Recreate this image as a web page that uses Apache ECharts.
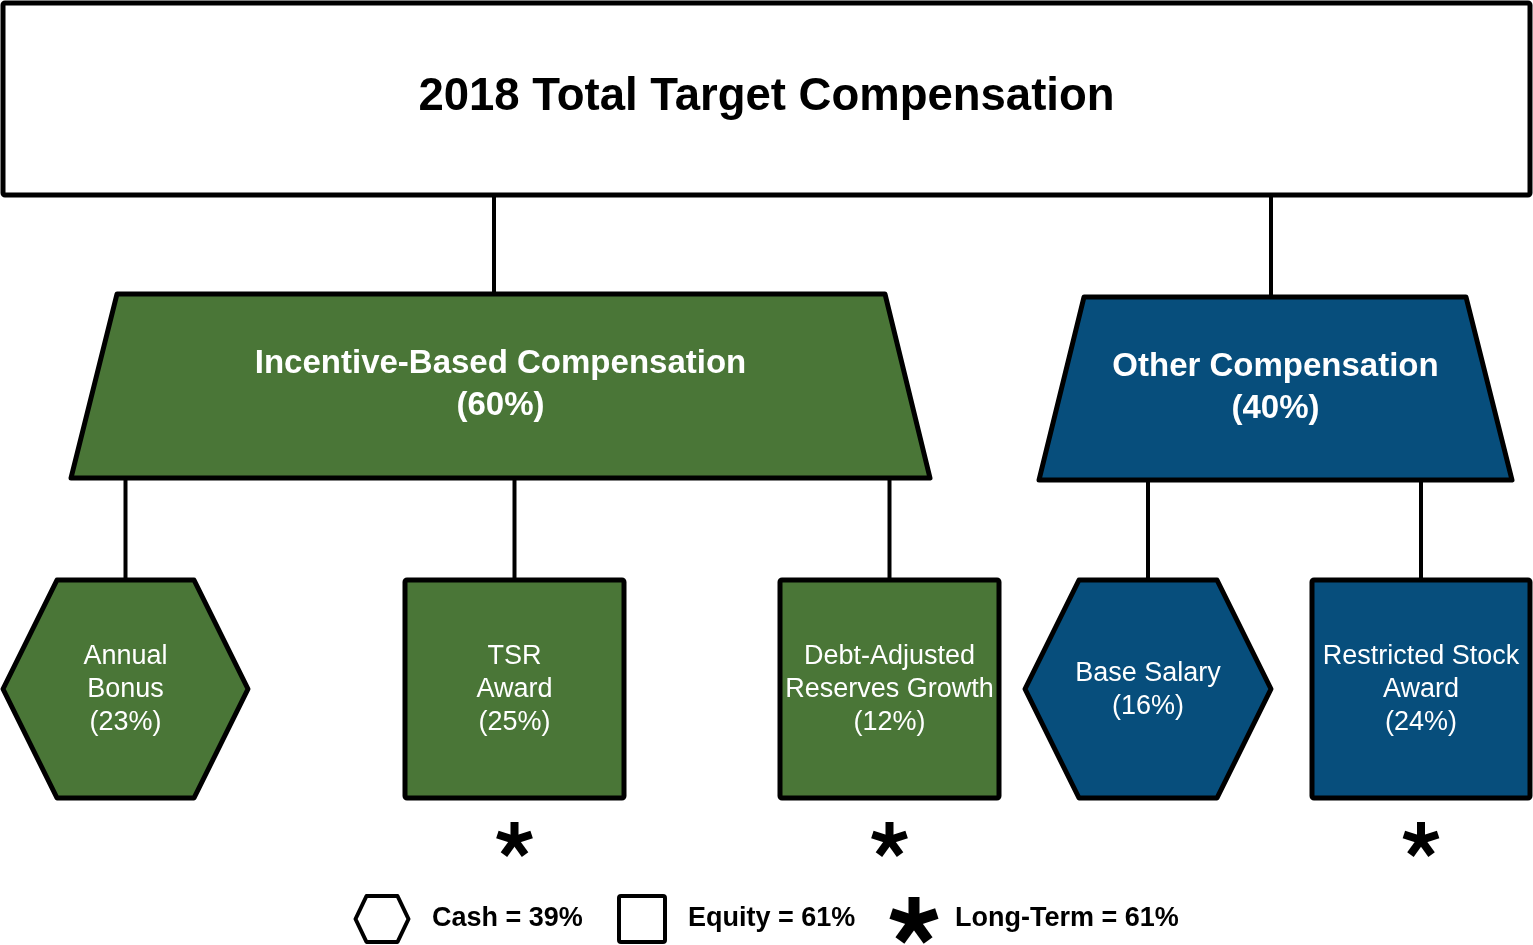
<!DOCTYPE html>
<html><head><meta charset="utf-8">
<script src="https://cdn.jsdelivr.net/npm/echarts@6/dist/echarts.min.js"></script>
<style>html,body{margin:0;padding:0;background:#fff}#c{width:1533px;height:945px}</style>
</head><body><div id="c"></div>
<script>
// ---- data ----
const title = '2018 Total Target Compensation';
const groupNames = ['Incentive-Based Compensation', 'Other Compensation'];
const groupShares = [60, 40];
const categories = ['Annual\nBonus', 'TSR\nAward', 'Debt-Adjusted\nReserves Growth', 'Base Salary', 'Restricted Stock\nAward'];
const categoryShares = [23, 25, 12, 16, 24];
const categoryGroup = [0, 0, 0, 1, 1];
const payForm = ['Cash', 'Equity', 'Equity', 'Cash', 'Equity'];
const longTerm = [false, true, true, false, true];
const legendLabels = ['Cash = 39%', 'Equity = 61%', 'Long-Term = 61%'];

// ---- layout (in the hidden axes' units) ----
const L = {
  root: {x0: 3, x1: 1530, y0: 3, y1: 195, ty: 97},
  groupTopX: [[117, 885], [1084, 1466]], groupTopY: [294, 297],
  groupBotX: [[71, 930], [1039, 1512]], groupBotY: [478, 480],
  groupTextY: [385, 388],
  groupAnchorX: [494, 1271],
  nodeCx: [125.5, 514.5, 889.5, 1148, 1421],
  nodeW: [245, 219, 219, 246, 218],
  nodeY0: 580, nodeY1: 798, hexInset: 54, textDy: 1,
  starY: 840,
  legend: {y: 919, hexCx: 382, sqCx: 642, starCx: 914, textX: [432, 688, 955]}
};
const COLORS = ['#4A7637', '#074E7C'];
const FONT = '"Liberation Sans", Arial, Helvetica, sans-serif';

function star(api, cx, cy, r, w) {
  const c = api.coord([cx, cy]);
  const kids = [];
  for (let k = 0; k < 5; k++) {
    const a = (-90 + 72 * k) * Math.PI / 180;
    kids.push({type: 'line', shape: {x1: c[0], y1: c[1], x2: c[0] + r * Math.cos(a), y2: c[1] + r * Math.sin(a)},
      style: {stroke: '#000', lineWidth: w, lineCap: 'butt'}});
  }
  return kids;
}
function hexPts(api, cx, cy, w, h, inset) {
  const P = (x, y) => api.coord([x, y]);
  return [P(cx - w / 2, cy), P(cx - w / 2 + inset, cy - h / 2), P(cx + w / 2 - inset, cy - h / 2),
          P(cx + w / 2, cy), P(cx + w / 2 - inset, cy + h / 2), P(cx - w / 2 + inset, cy + h / 2)];
}

// connectors
const connectors = [];
groupNames.forEach((g, i) => connectors.push([L.groupAnchorX[i], L.root.y1, L.groupTopY[i]]));
categories.forEach((c, i) => connectors.push([L.nodeCx[i], L.groupBotY[categoryGroup[i]], L.nodeY0]));

const chart = echarts.init(document.getElementById('c'), null, {renderer: 'canvas'});
chart.setOption({
  animation: false,
  backgroundColor: '#fff',
  grid: {left: 0, right: 0, top: 0, bottom: 0},
  xAxis: {type: 'value', min: 0, max: 1533, show: false},
  yAxis: {type: 'value', min: 0, max: 945, inverse: true, show: false},
  series: [
    { // connectors
      type: 'custom', clip: false, silent: true, z: 1,
      data: connectors,
      renderItem: (p, api) => {
        const a = api.coord([api.value(0), api.value(1)]), b = api.coord([api.value(0), api.value(2)]);
        return {type: 'line', shape: {x1: a[0], y1: a[1], x2: b[0], y2: b[1]}, style: {stroke: '#000', lineWidth: 4}};
      }
    },
    { // root box
      type: 'custom', clip: false, silent: true, z: 2,
      data: [[0]],
      renderItem: (p, api) => {
        const a = api.coord([L.root.x0, L.root.y0]), b = api.coord([L.root.x1, L.root.y1]);
        const t = api.coord([(L.root.x0 + L.root.x1) / 2, L.root.ty]);
        return {type: 'group', children: [
          {type: 'rect', shape: {x: a[0], y: a[1], width: b[0] - a[0], height: b[1] - a[1], r: 2},
           style: {fill: '#fff', stroke: '#000', lineWidth: 5, lineJoin: 'round'}},
          {type: 'text', style: {text: title, x: t[0], y: t[1], align: 'center', verticalAlign: 'middle',
           fill: '#000', fontSize: 45.5, fontWeight: 'bold', fontFamily: FONT}}
        ]};
      }
    },
    { // groups
      type: 'custom', clip: false, silent: true, z: 2,
      data: groupShares.map((v, i) => [i, v]),
      renderItem: (p, api) => {
        const i = api.value(0);
        const P = (x, y) => api.coord([x, y]);
        const tx = L.groupTopX[i], bx = L.groupBotX[i], ty = L.groupTopY[i], by = L.groupBotY[i];
        const c = P((bx[0] + bx[1]) / 2, L.groupTextY[i]);
        return {type: 'group', children: [
          {type: 'polygon', shape: {points: [P(tx[0], ty), P(tx[1], ty), P(bx[1], by), P(bx[0], by)]},
           style: {fill: COLORS[i], stroke: '#000', lineWidth: 5, lineJoin: 'round'}},
          {type: 'text', style: {text: groupNames[i] + '\n(' + api.value(1) + '%)', x: c[0], y: c[1],
           align: 'center', verticalAlign: 'middle', fill: '#fff', fontSize: 33, fontWeight: 'bold',
           fontFamily: FONT, lineHeight: 42}}
        ]};
      }
    },
    { // components
      type: 'custom', clip: false, silent: true, z: 3,
      data: categoryShares.map((v, i) => [i, v]),
      renderItem: (p, api) => {
        const i = api.value(0);
        const cx = L.nodeCx[i], w = L.nodeW[i], cy = (L.nodeY0 + L.nodeY1) / 2, h = L.nodeY1 - L.nodeY0;
        const style = {fill: COLORS[categoryGroup[i]], stroke: '#000', lineWidth: 5, lineJoin: 'round'};
        const kids = [];
        if (payForm[i] === 'Cash') {
          kids.push({type: 'polygon', shape: {points: hexPts(api, cx, cy, w, h, L.hexInset)}, style});
        } else {
          const a = api.coord([cx - w / 2, L.nodeY0]), b = api.coord([cx + w / 2, L.nodeY1]);
          kids.push({type: 'rect', shape: {x: a[0], y: a[1], width: b[0] - a[0], height: b[1] - a[1], r: 2}, style});
        }
        const c = api.coord([cx, cy + L.textDy]);
        kids.push({type: 'text', style: {text: categories[i] + '\n(' + api.value(1) + '%)', x: c[0], y: c[1],
          align: 'center', verticalAlign: 'middle', fill: '#fff', fontSize: 27, fontFamily: FONT, lineHeight: 33}});
        if (longTerm[i]) kids.push(...star(api, cx, L.starY, 18, 8));
        return {type: 'group', children: kids};
      }
    },
    { // legend
      type: 'custom', clip: false, silent: true, z: 3,
      data: legendLabels.map((t, i) => [i]),
      renderItem: (p, api) => {
        const i = api.value(0), lg = L.legend;
        const kids = [];
        if (i === 0) {
          kids.push({type: 'polygon', shape: {points: hexPts(api, lg.hexCx, lg.y, 53, 46, 11)},
            style: {fill: '#fff', stroke: '#000', lineWidth: 4, lineJoin: 'round'}});
        } else if (i === 1) {
          const a = api.coord([lg.sqCx - 23, lg.y - 23]);
          kids.push({type: 'rect', shape: {x: a[0], y: a[1], width: 46, height: 46, r: 2},
            style: {fill: '#fff', stroke: '#000', lineWidth: 4}});
        } else {
          kids.push(...star(api, lg.starCx, lg.y + 2, 24, 11));
        }
        const t = api.coord([lg.textX[i], lg.y]);
        kids.push({type: 'text', style: {text: legendLabels[i], x: t[0], y: t[1], align: 'left', verticalAlign: 'middle',
          fill: '#000', fontSize: 27, fontWeight: 'bold', fontFamily: FONT}});
        return {type: 'group', children: kids};
      }
    }
  ]
});
</script></body></html>
